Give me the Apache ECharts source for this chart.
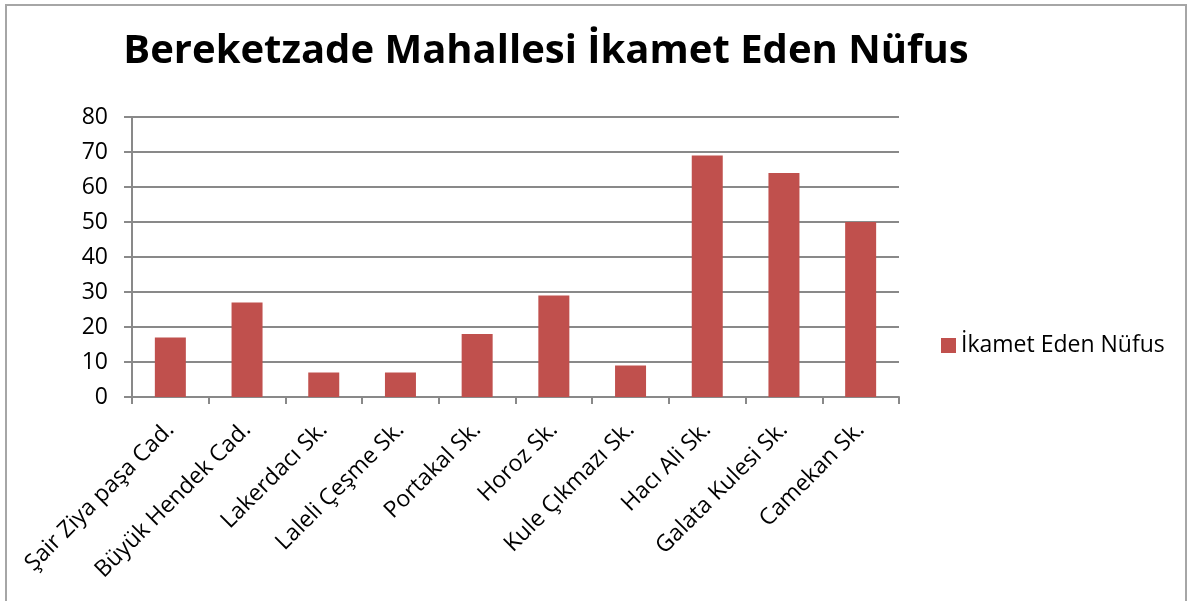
<!DOCTYPE html>
<html>
<head>
<meta charset="utf-8">
<script src="https://cdn.jsdelivr.net/npm/echarts@6/dist/echarts.min.js"></script>
<style>
  html, body { margin: 0; padding: 0; background: #fff; }
  #chart { position: absolute; left: 5px; top: 4px; width: 1182px; height: 600px;
           border: 2px solid #a6a6a6; border-bottom: none; box-sizing: border-box; }
</style>
</head>
<body>
<div id="chart"></div>
<script>
// sokak adlari ve nufus
const categories = ["Şair Ziya paşa Cad.", "Büyük Hendek Cad.", "Lakerdacı Sk.", "Laleli Çeşme Sk.",
  "Portakal Sk.", "Horoz Sk.", "Kule Çıkmazı Sk.", "Hacı Ali Sk.", "Galata Kulesi Sk.", "Camekan Sk."];
const nufus = [17, 27, 7, 7, 18, 29, 9, 69, 64, 50];
const seriesName = "İkamet Eden Nüfus";

let myChart = echarts.init(document.getElementById("chart"));
const font = "'Open Sans', 'Noto Sans', sans-serif";
const gridColor = "#898989";

myChart.setOption({
  animation: false,
  title: {
    text: "Bereketzade Mahallesi İkamet Eden Nüfus",
    left: 534,
    top: 21,
    textAlign: "center",
    textStyle: { fontFamily: font, fontSize: 40, fontWeight: "bold", color: "#000" }
  },
  color: ["#c0504d"],
  legend: {
    left: 929,
    top: 323,
    itemWidth: 15,
    itemHeight: 15,
    itemGap: 6,
    icon: "rect",
    textStyle: { fontFamily: font, fontSize: 23, color: "#000" },
    data: [seriesName]
  },
  grid: {
    left: 125,
    right: 286,
    top: 111,
    bottom: 207,
    containLabel: false
  },
  xAxis: [
    {
      type: "category",
      data: categories,
      axisLine: { lineStyle: { color: gridColor, width: 2 } },
      axisTick: { show: true, length: 7, alignWithLabel: false, lineStyle: { color: gridColor, width: 2 } },
      axisLabel: {
        rotate: 45,
        interval: 0,
        margin: 29,
        padding: [28, 0, 0, 0],
        fontFamily: font,
        fontSize: 23,
        color: "#000"
      }
    }
  ],
  yAxis: [
    {
      type: "value",
      min: 0,
      max: 80,
      interval: 10,
      axisLine: { show: true, lineStyle: { color: gridColor, width: 2 } },
      axisTick: { show: true, length: 8, lineStyle: { color: gridColor, width: 2 } },
      splitLine: { lineStyle: { color: gridColor, width: 2 } },
      axisLabel: { fontFamily: font, fontSize: 23, color: "#000", margin: 24 }
    }
  ],
  series: [
    {
      name: seriesName,
      type: "bar",
      barWidth: 31,
      itemStyle: { color: "#c0504d" },
      data: nufus
    }
  ]
});
</script>
</body>
</html>
